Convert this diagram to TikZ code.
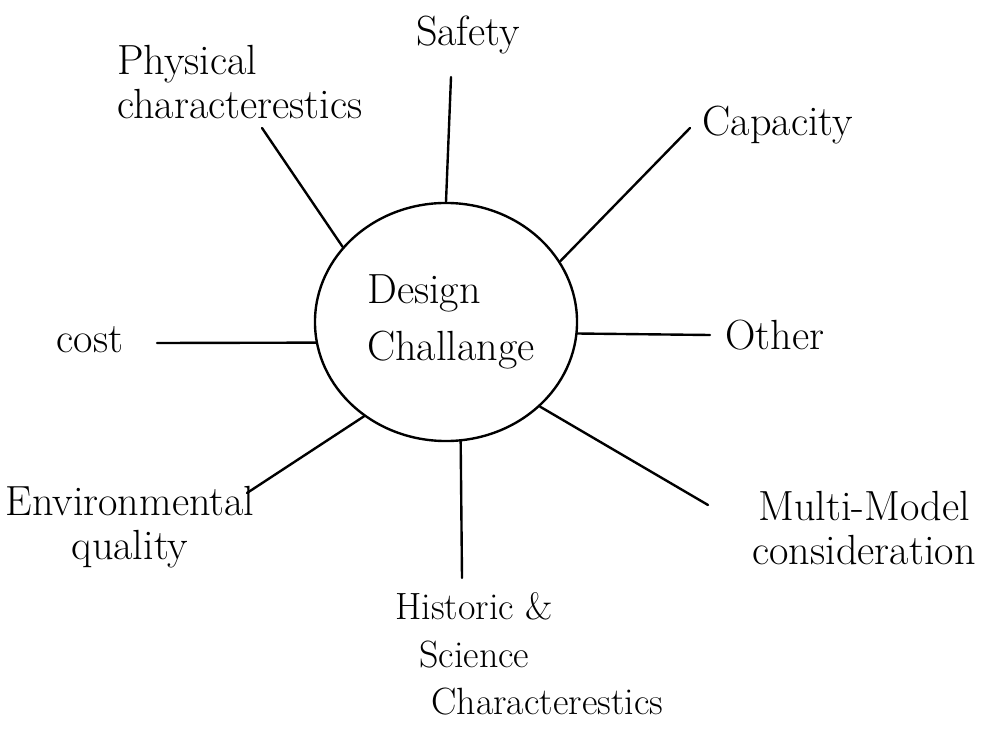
\documentclass[tikz,border=0pt]{standalone}
\usepackage{tikz}
\usetikzlibrary{shapes.geometric, positioning}
\tikzset{
  hub/.style   = {draw, ellipse, line width=1.7pt, minimum width=6.55cm,
                  minimum height=5.95cm, inner sep=0pt, align=left},
  spoke/.style = {line width=1.7pt, line cap=round},
  lbl/.style   = {font=\fontsize{30}{31}\selectfont, inner sep=0pt},
}

\begin{document}
\begin{tikzpicture}[x=0.025cm, y=-0.025cm]
  \useasboundingbox (0,0) rectangle (1003,740);
  % centre
  \node[hub, lbl] (dc) at (446,322) {\hspace*{0.25cm}Design\\[0.35cm]\hspace*{0.25cm}Challange};
  % labels
  \node[lbl, align=left]   (phys) at (240,82)  {Physical\\characterestics};
  \node[lbl]               (safe) at (468,35)  {Safety};
  \node[lbl]               (cap)  at (778,125) {Capacity};
  \node[lbl]               (cost) at (90,340)  {cost};
  \node[lbl]               (oth)  at (775,335) {Other};
  \node[lbl, align=center] (env)  at (130,527) {Environmental\\quality};
  \node[lbl, align=center] (mm)   at (864,528) {Multi-Model\\consideration};
  \node[lbl, align=left, anchor=north west, font=\fontsize{27}{34}\selectfont]
    (hist) at (395,592)
    {Historic \&\\\hspace*{0.6cm}Science\\\hspace*{0.9cm}Characterestics};
  % free ends of the spokes
  \coordinate (safe-e) at (451,77);
  \coordinate (phys-e) at (262,128);
  \coordinate (cap-e)  at (690,128);
  \coordinate (cost-e) at (157,343);
  \coordinate (oth-e)  at (710,335);
  \coordinate (env-e)  at (247,493);
  \coordinate (mm-e)   at (708,505);
  \coordinate (hist-e) at (462,578);
  % spokes
  \draw[spoke] (dc.90)    -- (safe-e);
  \draw[spoke] (dc.144)   -- (phys-e);
  \draw[spoke] (dc.28)    -- (cap-e);
  \draw[spoke] (dc.189)   -- (cost-e);
  \draw[spoke] (dc.-5)    -- (oth-e);
  \draw[spoke] (dc.229.7) -- (env-e);
  \draw[spoke] (dc.-42.6) -- (mm-e);
  \draw[spoke] (dc.-83)   -- (hist-e);
\end{tikzpicture}
\end{document}
